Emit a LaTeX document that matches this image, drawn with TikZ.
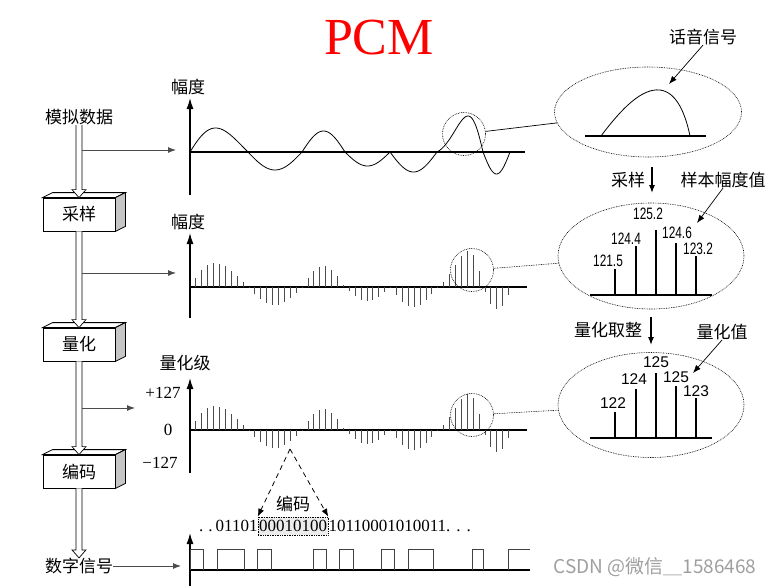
\documentclass[tikz,border=0pt]{standalone}
\usepackage{fontspec}
\setmainfont{Liberation Serif}
\newfontfamily\cjk{Noto Sans CJK SC}
\newfontfamily\arial{Liberation Sans}
\newfontfamily\arialn[FakeStretch=0.72]{Liberation Sans}
\usetikzlibrary{arrows.meta,shapes.geometric,calc,positioning}

\tikzset{
    lbl/.style={font=\cjk\fontsize{17}{17}\selectfont, inner sep=0pt},
    num/.style={font=\fontsize{17}{17}\selectfont, inner sep=0pt},
    stagebox/.style={draw, fill=white, line width=0.8pt, minimum width=72pt,
        minimum height=33pt, inner sep=0pt, font=\cjk\fontsize{17}{17}\selectfont},
    axis/.style={line width=1.3pt},
    axisarrow/.style={line width=1.3pt, -{Latex[length=11pt,width=7pt]}},
    branch/.style={draw=black!70, line width=0.9pt, -{Latex[length=8pt,width=6pt]}},
    dots/.style={dash pattern=on 0.8pt off 0.9pt, line width=0.6pt},
    wave/.style={line width=0.8pt},
    stem/.style={draw=black!70, line width=0.9pt},
    vals/.style={font=\arialn\fontsize{16.5}{16.5}\selectfont, inner sep=0pt},
    valq/.style={font=\arial\fontsize{15.5}{15.5}\selectfont, inner sep=0pt},
    bar/.style={line width=1.5pt},
    pointer/.style={line width=0.7pt, -{Latex[length=8pt,width=6pt]}},
    downarrow/.style={line width=1.2pt, -{Latex[length=8pt,width=6pt]}},
}

% 立体方框的顶面与侧面
\newcommand{\boxfaces}[1]{%
    \draw[fill=white, line width=0.8pt] (#1.north west) -- ++(10,-5)
        -- ($(#1.north east)+(10,-5)$) -- (#1.north east) -- cycle;
    \draw[fill=gray!45, line width=0.8pt] (#1.north east) -- ++(10,-5)
        -- ($(#1.south east)+(10,-5)$) -- (#1.south east) -- cycle;
}
% 空心箭头
\newcommand{\hollowarrow}[2]{%
    \draw[fill=white, line width=0.7pt] let \p1=(#1), \p2=(#2) in
        (\x1-3pt,\y1) -- (\x1-3pt,\y2+8pt) -- (\x1-7pt,\y2+8pt) -- (\x1,\y2)
        -- (\x1+7pt,\y2+8pt) -- (\x1+3pt,\y2+8pt) -- (\x1+3pt,\y1);
}

\begin{document}
\begin{tikzpicture}[x=1pt, y=-1pt,
    declare function={tt(\u,\p,\q)=(\u-\p)/(\q-\p);
        lobe(\u,\p,\q,\k)=sin(180*(tt(\u,\p,\q)-\k*tt(\u,\p,\q)*(1-tt(\u,\p,\q))));}]
    \useasboundingbox (0,0) rectangle (778,586);

    % 1. 标题
    \node[text=red, font=\fontsize{52}{52}\selectfont, inner sep=0pt] (title) at (379,38) {PCM};

    % 2. 左侧流程
    \node[lbl] (analog) at (79,117) {模拟数据};
    \node[stagebox] (sample) at (79,214.5) {采样};
    \node[stagebox] (quant) at (79,344.5) {量化};
    \node[stagebox] (encode) at (79,471.5) {编码};
    \node[lbl] (digital) at (79,566) {数字信号};
    \boxfaces{sample}
    \boxfaces{quant}
    \boxfaces{encode}

    \hollowarrow{analog.south}{sample.north}
    \hollowarrow{sample.south}{quant.north}
    \hollowarrow{quant.south}{encode.north}
    \hollowarrow{encode.south}{digital.north}

    \coordinate (shaft) at (82,0);
    \coordinate (g1) at (176,150);
    \coordinate (g2) at (176,273);
    \coordinate (g3) at (135,408);
    \coordinate (g4) at (181,566);
    \draw[branch] (shaft |- g1) -- (g1);
    \draw[branch] (shaft |- g2) -- (g2);
    \draw[branch] (shaft |- g3) -- (g3);
    \draw[branch] (digital.east) -- (g4);

    % 3. 模拟信号
    \draw[axisarrow] (190,195) -- (190,98);
    \draw[axis] (190,152) -- (525,152);
    \node[lbl] (amp1) at (188,87) {幅度};
    \foreach \xa/\xb/\amp/\sk in {190/248/24/-0.24, 248/302/-18/0, 302/345/21/0,
            345/390/-14/0, 390/437/-20/0, 437/483/36/0.79, 483/510/-22/0}
        \draw[wave] plot[domain=\xa:\xb, samples=40] (\x, {152-(\amp)*lobe(\x,\xa,\xb,\sk)});

    % 4. 采样与量化后的样本
    \draw[axisarrow] (190,318) -- (190,233);
    \draw[axis] (190,287) -- (527,287);
    \node[lbl] (amp2) at (188,222) {幅度};

    \draw[axisarrow] (190,473) -- (190,378);
    \draw[axis] (190,430) -- (527,430);
    \node[lbl] (level) at (185,363) {量化级};
    \node[num] (pmax) at (163,393) {+127};
    \node[num] (zero) at (168,430) {0};
    \node[num] (pmin) at (160,463) {−127};

    \foreach \xa/\xb/\amp/\sk in {190/248/24/-0.24, 248/302/-18/0, 302/345/21/0,
            345/390/-14/0, 390/437/-20/0, 437/483/36/0.79, 483/512/-22/0} {
        \pgfmathtruncatemacro\kone{floor((\xa-190)/5.9)+1}
        \pgfmathtruncatemacro\ktwo{floor((\xb-190)/5.9)}
        \foreach \k in {\kone,...,\ktwo} {
            \pgfmathsetmacro\xs{190+5.9*\k}
            \pgfmathsetmacro\hs{(\amp)*lobe(\xs,\xa,\xb,\sk)}
            \pgfmathsetmacro\ya{287-\hs}
            \pgfmathsetmacro\yb{430-\hs}
            \draw[stem] (\xs,287) -- (\xs,\ya);
            \draw[stem] (\xs,430) -- (\xs,\yb);
        }
    }

    % 5. 放大的圆圈与椭圆
    \node[circle, draw, dots, minimum size=43pt, inner sep=0pt] (c1) at (464,134) {};
    \node[circle, draw, dots, minimum size=43pt, inner sep=0pt] (c2) at (472,270) {};
    \node[circle, draw, dots, minimum size=43pt, inner sep=0pt] (c3) at (472,415) {};
    \node[ellipse, draw, dots, minimum width=187pt, minimum height=90pt, inner sep=0pt] (e1) at (648,112) {};
    \node[ellipse, draw, dots, minimum width=186pt, minimum height=106pt, inner sep=0pt] (e2) at (651,256) {};
    \node[ellipse, draw, dots, minimum width=186pt, minimum height=105pt, inner sep=0pt] (e3) at (651,405) {};
    \draw[line width=0.7pt] (c1) -- (e1);
    \draw[dots] (c2) -- (e2);
    \draw[dots] (c3) -- (e3);

    % 话音信号
    \draw[line width=1.4pt] (585,136) -- (706,136);
    \draw[wave] (601,136) .. controls (622,108) and (642,88) .. (660,90)
        .. controls (676,92) and (685,112) .. (690,136);
    \node[lbl] (voice) at (703,37) {话音信号};
    \coordinate (humptip) at (669,84);
    \draw[pointer] (voice.south) -- (humptip);

    % 样本幅度值
    \node[lbl] (samptxt) at (628,180) {采样};
    \coordinate (s1) at (652,167);
    \coordinate (s2) at (652,193);
    \draw[downarrow] (s1) -- (s2);
    \node[lbl] (sampval) at (723,180) {样本幅度值};
    \coordinate (valtip) at (697,223);
    \draw[pointer] (sampval.south) -- (valtip);

    \draw[bar] (590,295) -- (712,295);
    \foreach \xs/\ys in {615/269, 636/246, 656/230, 676/243, 696/256}
        \draw[bar] (\xs,295) -- (\xs,\ys);
    \node[vals] (v1) at (608,261) {121.5};
    \node[vals] (v2) at (626,239) {124.4};
    \node[vals] (v3) at (648,214) {125.2};
    \node[vals] (v4) at (677,233) {124.6};
    \node[vals] (v5) at (698,249) {123.2};

    % 量化值
    \node[lbl] (roundtxt) at (608,330) {量化取整};
    \coordinate (r1) at (651,317);
    \coordinate (r2) at (651,345);
    \draw[downarrow] (r1) -- (r2);
    \node[lbl] (qval) at (722,332) {量化值};
    \coordinate (qtip) at (693,373);
    \draw[pointer] (qval.south) -- (qtip);

    \draw[bar] (590,438) -- (712,438);
    \foreach \xs/\ys in {615/412, 636/389, 656/373, 676/386, 696/398}
        \draw[bar] (\xs,438) -- (\xs,\ys);
    \node[valq] (q1) at (613,403) {122};
    \node[valq] (q2) at (634,379) {124};
    \node[valq] (q3) at (656,362) {125};
    \node[valq] (q4) at (676,377) {125};
    \node[valq] (q5) at (696,391) {123};

    % 6. 编码
    \node[num, draw, dots, fill=gray!15, minimum width=70pt, minimum height=18pt] (code) at (293,526) {00010100};
    \node[num, left=0pt of code] (bitsl) {.\hspace{5pt}.\hspace{3pt}01101};
    \node[num, right=0pt of code] (bitsr) {10110001010011.\hspace{6pt}.\hspace{6pt}.};
    \node[lbl, above=5pt of code] (codetxt) {编码};
    \coordinate (apex) at (290,449);
    \draw[line width=0.8pt, dash pattern=on 5pt off 4pt, -{Latex[length=8pt,width=6pt]}] (apex) -- (code.north west);
    \draw[line width=0.8pt, dash pattern=on 5pt off 4pt, -{Latex[length=8pt,width=6pt]}] (apex) -- (code.north east);

    % 7. 数字信号
    \draw[axisarrow] (190,586) -- (190,533);
    \draw[axis] (190,570) -- (530,570);
    \foreach \xa/\xb in {190/203, 217/244, 257/271, 313/326, 339/353, 381/394, 408/433, 472/483}
        \draw[draw=black!75, line width=0.9pt] (\xa,570) -- (\xa,549) -- (\xb,549) -- (\xb,570);
    \draw[draw=black!75, line width=0.9pt] (508,570) -- (508,549) -- (530,549);

    \node[font=\cjk\fontsize{19}{19}\selectfont, text=gray!75, inner sep=0pt] (mark) at (655,567) {CSDN @微信＿1586468};
\end{tikzpicture}
\end{document}
